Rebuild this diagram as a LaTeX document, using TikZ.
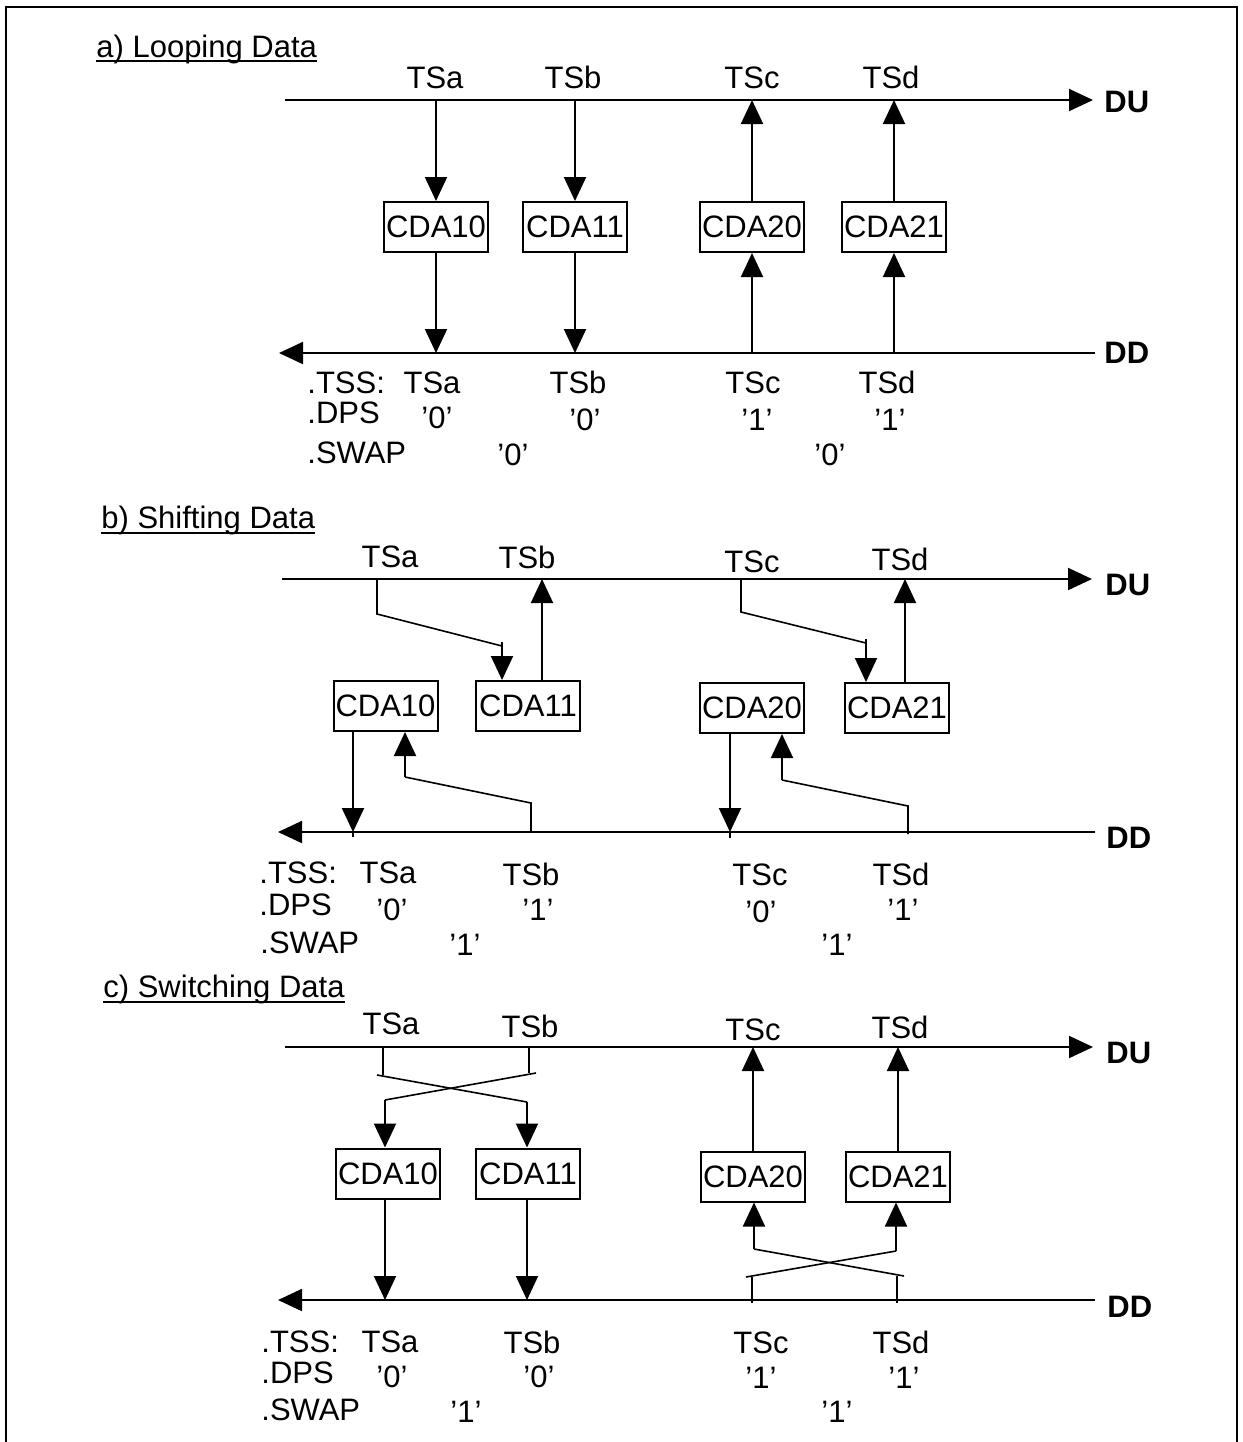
\documentclass[tikz,border=0pt]{standalone}
\usepackage{fontspec}
\setmainfont{Liberation Sans}
\usetikzlibrary{arrows.meta,positioning}

\begin{document}
\begin{tikzpicture}[
    x=0.5pt, y=-0.5pt,
    font=\fontsize{15.5}{18}\selectfont,
    box/.style={draw, line width=1pt, inner sep=0pt, minimum width=52pt, minimum height=25pt},
    txt/.style={anchor=base, inner sep=0pt},
    lead/.style={anchor=base west, inner sep=0pt},
    busname/.style={anchor=base west, inner sep=0pt, font=\fontsize{15.5}{18}\selectfont\bfseries},
    link/.style={-{Triangle[length=12pt,width=11pt]}, line width=1pt},
    wire/.style={line width=0.8pt},
    uline/.style={line width=0.8pt}
]
\useasboundingbox (0,0) rectangle (1243,1442);
\draw[line width=1pt] (6,1442) -- (6,7) -- (1237,7) -- (1237,1442);

% a) looping
\node[lead] (ta) at (96,57) {a) Looping Data};
\draw[uline] ([yshift=-2pt]ta.base west) -- ([yshift=-2pt]ta.base east);
\coordinate (aU) at (285,100);
\coordinate (aUe) at (1093,100);
\coordinate (aD) at (1095,353);
\coordinate (aDe) at (279,353);
\draw[link] (aU) -- (aUe);
\draw[link] (aD) -- (aDe);
\node[busname] (aDU) at (1104,112) {DU};
\node[busname] (aDD) at (1104,363) {DD};
\node[txt] (aTa) at (435,88) {TSa};
\node[txt] (aTb) at (573,88) {TSb};
\node[txt] (aTc) at (752,88) {TSc};
\node[txt] (aTd) at (891,88) {TSd};
\node[box] (a10) at (436,227) {CDA10};
\node[box] (a11) at (575,227) {CDA11};
\node[box] (a20) at (752,227) {CDA20};
\node[box] (a21) at (894,227) {CDA21};
\draw[link] (a10.north |- aU) -- (a10.north);
\draw[link] (a11.north |- aU) -- (a11.north);
\draw[link] (a20.north) -- (a20.north |- aU);
\draw[link] (a21.north) -- (a21.north |- aU);
\draw[link] (a10.south) -- (a10.south |- aD);
\draw[link] (a11.south) -- (a11.south |- aD);
\draw[link] (a20.south |- aD) -- (a20.south);
\draw[link] (a21.south |- aD) -- (a21.south);
\node[lead] (aTSS) at (307,393) {.TSS:};
\node[txt] (aSa) at (432,393) {TSa};
\node[txt] (aSb) at (578,393) {TSb};
\node[txt] (aSc) at (753,393) {TSc};
\node[txt] (aSd) at (887,393) {TSd};
\node[lead] (aDPS) at (307,423) {.DPS};
\node[txt] (aPa) at (437,428) {'0'};
\node[txt] (aPb) at (585,430) {'0'};
\node[txt] (aPc) at (757,430) {'1'};
\node[txt] (aPd) at (890,430) {'1'};
\node[lead] (aSWAP) at (307,463) {.SWAP};
\node[txt] (aW1) at (513,465) {'0'};
\node[txt] (aW2) at (830,465) {'0'};

% b) shifting
\node[lead] (tb) at (101,528) {b) Shifting Data~};
\draw[uline] ([yshift=-2.5pt]tb.base west) -- ([yshift=-2.5pt]tb.base east);
\coordinate (bU) at (282,579);
\coordinate (bUe) at (1092,579);
\coordinate (bD) at (1095,832);
\coordinate (bDe) at (278,832);
\draw[link] (bU) -- (bUe);
\draw[link] (bD) -- (bDe);
\node[busname] (bDU) at (1105,595) {DU};
\node[busname] (bDD) at (1106,848) {DD};
\node[txt] (bTa) at (390,567) {TSa};
\node[txt] (bTb) at (527,568) {TSb};
\node[txt] (bTc) at (752,572) {TSc};
\node[txt] (bTd) at (900,570) {TSd};
\node[box] (b10) at (385.5,706) {CDA10};
\node[box] (b11) at (528,706) {CDA11};
\node[box] (b20) at (752,708) {CDA20};
\node[box] (b21) at (897,708) {CDA21};
\coordinate (bA) at (377,579);
\coordinate (bA1) at (377,614);
\coordinate (bA2) at (502,646);
\draw[wire] (bA) -- (bA1) -- (bA2);
\draw[link] ([yshift=2pt]bA2) -- (b11.north -| bA2);
\coordinate (bB) at (542,579);
\draw[link] (b11.north -| bB) -- (bB);
\coordinate (bC) at (741,579);
\coordinate (bC1) at (741,612);
\coordinate (bC2) at (866,643);
\draw[wire] (bC) -- (bC1) -- (bC2);
\draw[link] ([yshift=2pt]bC2) -- (b21.north -| bC2);
\coordinate (bE) at (905,579);
\draw[link] (b21.north -| bE) -- (bE);
\coordinate (bDa) at (353,832);
\draw[link] (b10.south -| bDa) -- (bDa);
\draw[wire] (bDa) -- ++(0,5);
\coordinate (bDb) at (531,832);
\coordinate (bB1) at (531,803);
\coordinate (bB2) at (405,777);
\draw[wire] (bDb) -- (bB1) -- (bB2);
\draw[link] (bB2) -- (b10.south -| bB2);
\coordinate (bDc) at (730,832);
\draw[link] (b20.south -| bDc) -- (bDc);
\draw[wire] (bDc) -- ++(0,6);
\coordinate (bDd) at (908,834);
\coordinate (bD1) at (908,806);
\coordinate (bD2) at (782,780);
\draw[wire] (bDd) -- (bD1) -- (bD2);
\draw[link] (bD2) -- (b20.south -| bD2);
\node[lead] (bTSS) at (259,883) {.TSS:};
\node[txt] (bSa) at (388,883) {TSa};
\node[txt] (bSb) at (531,885) {TSb};
\node[txt] (bSc) at (760,885) {TSc};
\node[txt] (bSd) at (901,885) {TSd};
\node[lead] (bDPS) at (259,915) {.DPS};
\node[txt] (bPa) at (392,920) {'0'};
\node[txt] (bPb) at (538,920) {'1'};
\node[txt] (bPc) at (761,922) {'0'};
\node[txt] (bPd) at (903,920) {'1'};
\node[lead] (bSWAP) at (260,953) {.SWAP};
\node[txt] (bW1) at (465,955) {'1'};
\node[txt] (bW2) at (837,955) {'1'};

% c) switching
\node[lead] (tc) at (103,997) {c) Switching Data};
\draw[uline] ([yshift=-2.5pt]tc.base west) -- ([yshift=-2.5pt]tc.base east);
\coordinate (cU) at (285,1047);
\coordinate (cUe) at (1093,1047);
\coordinate (cD) at (1095,1300);
\coordinate (cDe) at (278,1300);
\draw[link] (cU) -- (cUe);
\draw[link] (cD) -- (cDe);
\node[busname] (cDU) at (1106,1063) {DU};
\node[busname] (cDD) at (1107,1317) {DD};
\node[txt] (cTa) at (391,1034) {TSa};
\node[txt] (cTb) at (530,1037) {TSb};
\node[txt] (cTc) at (753,1040) {TSc};
\node[txt] (cTd) at (900,1038) {TSd};
\node[box] (c10) at (388,1173.5) {CDA10};
\node[box] (c11) at (528,1173.5) {CDA11};
\node[box] (c20) at (753,1176.5) {CDA20};
\node[box] (c21) at (898,1176.5) {CDA21};
\coordinate (cA) at (383,1047);
\coordinate (cB) at (529,1047);
\coordinate (cX1) at (377,1075);
\coordinate (cX2) at (527,1102);
\coordinate (cX3) at (536,1073);
\coordinate (cX4) at (385,1100);
\draw[wire] (cA) -- (cA |- cX1);
\draw[wire] (cB) -- (cB |- cX3);
\draw[wire] (cX1) -- (cX2);
\draw[wire] (cX3) -- (cX4);
\draw[link] (cX4) -- (c10.north -| cX4);
\draw[link] (cX2) -- (c11.north -| cX2);
\draw[link] (c20.north) -- (c20.north |- cU);
\draw[link] (c21.north) -- (c21.north |- cU);
\draw[link] (c10.south -| cX4) -- (cX4 |- cD);
\draw[link] (c11.south -| cX2) -- (cX2 |- cD);
\coordinate (cY1) at (754,1249);
\coordinate (cY2) at (904,1276);
\coordinate (cY3) at (896,1251);
\coordinate (cY4) at (746,1277);
\draw[wire] (cY1) -- (cY2);
\draw[wire] (cY3) -- (cY4);
\draw[link] (cY1) -- (c20.south -| cY1);
\draw[link] (cY3) -- (c21.south -| cY3);
\coordinate (cC) at (752,1300);
\coordinate (cE) at (897,1300);
\draw[wire] ([yshift=-1.5pt]cC) -- (cC |- cY4);
\draw[wire] ([yshift=-1.5pt]cE) -- (cE |- cY2);
\node[lead] (cTSS) at (261,1352) {.TSS:};
\node[txt] (cSa) at (390,1352) {TSa};
\node[txt] (cSb) at (532,1353) {TSb};
\node[txt] (cSc) at (761,1353) {TSc};
\node[txt] (cSd) at (901,1353) {TSd};
\node[lead] (cDPS) at (261,1383) {.DPS};
\node[txt] (cPa) at (392,1387) {'0'};
\node[txt] (cPb) at (539,1387) {'0'};
\node[txt] (cPc) at (761,1388) {'1'};
\node[txt] (cPd) at (904,1388) {'1'};
\node[lead] (cSWAP) at (261,1420) {.SWAP};
\node[txt] (cW1) at (466,1422) {'1'};
\node[txt] (cW2) at (837,1422) {'1'};
\end{tikzpicture}
\end{document}
